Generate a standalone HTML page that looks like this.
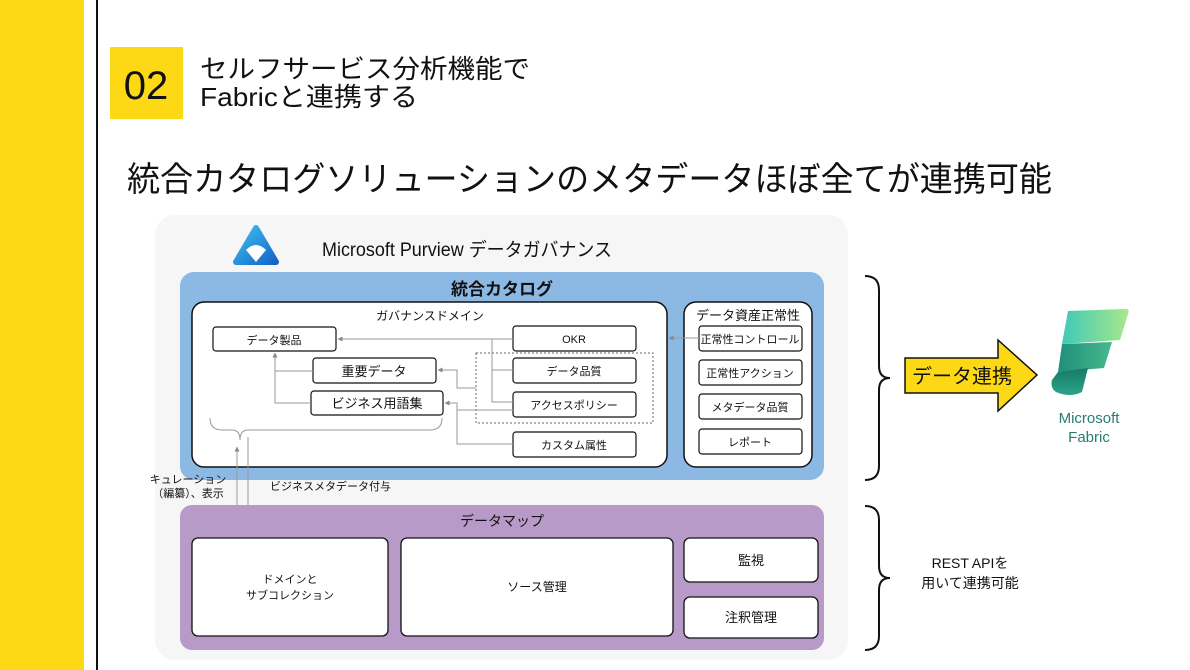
<!DOCTYPE html>
<html><head><meta charset="utf-8"><style>
html,body{margin:0;padding:0;background:#fff}
svg{display:block}
text{font-family:"Liberation Sans","Noto Sans CJK JP",sans-serif;fill:#111}
</style></head><body>
<svg width="1190" height="670" viewBox="0 0 1190 670" xmlns="http://www.w3.org/2000/svg">
<defs>
<marker id="ah" viewBox="0 0 10 10" refX="9" refY="5" markerWidth="5" markerHeight="5" orient="auto"><path d="M0,0L10,5L0,10z" fill="#888"/></marker>
<linearGradient id="fg1" x1="0" y1="0" x2="1" y2="0"><stop offset="0" stop-color="#3fc9b8"/><stop offset="1" stop-color="#a8e88a"/></linearGradient>
<linearGradient id="fg2" x1="0" y1="0" x2="1" y2="0"><stop offset="0" stop-color="#1f8f7a"/><stop offset="1" stop-color="#48b88c"/></linearGradient>
<linearGradient id="fg3" x1="0" y1="0" x2="0" y2="1"><stop offset="0" stop-color="#177a66"/><stop offset="1" stop-color="#2aa58a"/></linearGradient>
<linearGradient id="pv" x1="0" y1="0" x2="1" y2="1"><stop offset="0" stop-color="#3ec0f0"/><stop offset="1" stop-color="#1565c8"/></linearGradient>
</defs>
<rect x="0" y="0" width="84" height="670" fill="#fdd815"/>
<rect x="96" y="0" width="2" height="670" fill="#111"/>
<rect x="110" y="47" width="73" height="72" fill="#fdd815"/>
<text x="146" y="99" font-size="40" text-anchor="middle">02</text>
<text x="200" y="78" font-size="26" textLength="330" lengthAdjust="spacingAndGlyphs">セルフサービス分析機能で</text>
<text x="200" y="106" font-size="26" textLength="218" lengthAdjust="spacingAndGlyphs">Fabricと連携する</text>
<text x="127" y="191" font-size="34" textLength="925" lengthAdjust="spacingAndGlyphs">統合カタログソリューションのメタデータほぼ全てが連携可能</text>

<rect x="155" y="215" width="693" height="445" rx="20" fill="#f6f6f6"/>
<path d="M256,228 L276,262 L236,262 Z" fill="url(#pv)" stroke="url(#pv)" stroke-width="6" stroke-linejoin="round"/>
<path d="M246,250 Q256,240 266,250 L256,262 Z" fill="#fff"/>
<text x="322" y="256" font-size="19" textLength="290" lengthAdjust="spacingAndGlyphs">Microsoft Purview データガバナンス</text>

<rect x="180" y="272" width="644" height="208" rx="14" fill="#8cb8e4"/>
<text x="502" y="295" font-size="17" text-anchor="middle" font-weight="bold">統合カタログ</text>
<rect x="192" y="302" width="475" height="165" rx="12" fill="#fff" stroke="#111" stroke-width="1.5"/>
<text x="430" y="320" font-size="12" text-anchor="middle">ガバナンスドメイン</text>
<rect x="684" y="302" width="128" height="165" rx="12" fill="#fff" stroke="#111" stroke-width="1.5"/>
<text x="748" y="320" font-size="13" text-anchor="middle">データ資産正常性</text>

<g stroke="#111" stroke-width="1.2" fill="#fff">
<rect x="213" y="327" width="123" height="24" rx="3"/>
<rect x="313" y="358" width="123" height="25" rx="3"/>
<rect x="311" y="391" width="132" height="24" rx="3"/>
<rect x="513" y="326" width="123" height="25" rx="3"/>
<rect x="513" y="358" width="123" height="25" rx="3"/>
<rect x="513" y="392" width="123" height="25" rx="3"/>
<rect x="513" y="432" width="123" height="25" rx="3"/>
<rect x="699" y="326" width="103" height="25" rx="3"/>
<rect x="699" y="360" width="103" height="25" rx="3"/>
<rect x="699" y="394" width="103" height="25" rx="3"/>
<rect x="699" y="429" width="103" height="25" rx="3"/>
</g>
<rect x="476" y="353" width="177" height="70" fill="none" stroke="#666" stroke-dasharray="2,2"/>
<g fill="none" stroke="#999" stroke-width="1">
<path d="M513,339 H338" marker-end="url(#ah)"/>
<path d="M492,339 V402 H513"/>
<path d="M492,370 H513"/>
<path d="M476,388 H457 V370 H438" marker-end="url(#ah)"/>
<path d="M513,410 H457 V403 H445" marker-end="url(#ah)"/>
<path d="M513,444 H457 V403"/>
<path d="M313,371 H275 V353" marker-end="url(#ah)"/>
<path d="M311,403 H275 V371"/>
<path d="M699,338 H669" marker-end="url(#ah)"/>
<path d="M210,418 Q210,430 222,430 H232 Q240,430 240,440 Q240,430 248,430 H430 Q442,430 442,418"/>
<path d="M237,538 V447" marker-end="url(#ah)"/>
<path d="M248,437 V538" marker-end="url(#ah)"/>
</g>
<g font-size="11" text-anchor="middle">
<text x="274" y="344">データ製品</text>
<text x="374" y="376" font-size="13">重要データ</text>
<text x="377" y="408" font-size="13">ビジネス用語集</text>
<text x="574" y="343">OKR</text>
<text x="574" y="375">データ品質</text>
<text x="574" y="409">アクセスポリシー</text>
<text x="574" y="449">カスタム属性</text>
<text x="750" y="343">正常性コントロール</text>
<text x="750" y="377">正常性アクション</text>
<text x="750" y="411">メタデータ品質</text>
<text x="750" y="446">レポート</text>
</g>
<text x="188" y="483" font-size="11" text-anchor="middle">キュレーション</text>
<text x="188" y="497" font-size="11" text-anchor="middle">（編纂）、表示</text>
<text x="270" y="490" font-size="11">ビジネスメタデータ付与</text>

<rect x="180" y="505" width="644" height="145" rx="12" fill="#b89ac8"/>
<text x="502" y="526" font-size="14" text-anchor="middle">データマップ</text>
<g stroke="#111" stroke-width="1.3" fill="#fff">
<rect x="192" y="538" width="196" height="98" rx="6"/>
<rect x="401" y="538" width="272" height="98" rx="6"/>
<rect x="684" y="538" width="134" height="44" rx="6"/>
<rect x="684" y="597" width="134" height="41" rx="6"/>
</g>
<text x="290" y="583" font-size="11" text-anchor="middle">ドメインと</text>
<text x="290" y="599" font-size="11" text-anchor="middle">サブコレクション</text>
<text x="537" y="591" font-size="12" text-anchor="middle">ソース管理</text>
<text x="751" y="565" font-size="13" text-anchor="middle">監視</text>
<text x="751" y="622" font-size="13" text-anchor="middle">注釈管理</text>

<g fill="none" stroke="#111" stroke-width="2">
<path d="M865,276 Q879,276 879,290 V366 Q879,378 890,378 Q879,378 879,390 V466 Q879,480 865,480"/>
<path d="M865,506 Q879,506 879,520 V566 Q879,578 890,578 Q879,578 879,590 V636 Q879,650 865,650"/>
</g>
<path d="M905,358 H998 V340 L1037,375 L998,411 V393 H905 Z" fill="#fdd815" stroke="#111" stroke-width="1.5"/>
<text x="912" y="383" font-size="20">データ連携</text>
<text x="970" y="568" font-size="14" text-anchor="middle">REST APIを</text>
<text x="970" y="588" font-size="14" text-anchor="middle">用いて連携可能</text>

<path d="M1068,311 L1126,309 Q1130,309 1128,314 L1120,340 L1062,344 Z" fill="url(#fg1)"/>
<path d="M1062,344 L1112,342 L1104,368 L1058,372 Z" fill="url(#fg2)"/>
<path d="M1058,372 L1088,368 L1082,392 Q1070,398 1056,392 Q1050,388 1052,380 Z" fill="url(#fg3)"/>
<text x="1089" y="423" font-size="15" text-anchor="middle" style="fill:#2a7d6e">Microsoft</text>
<text x="1089" y="442" font-size="15" text-anchor="middle" style="fill:#2a7d6e">Fabric</text>
</svg>
</body></html>
